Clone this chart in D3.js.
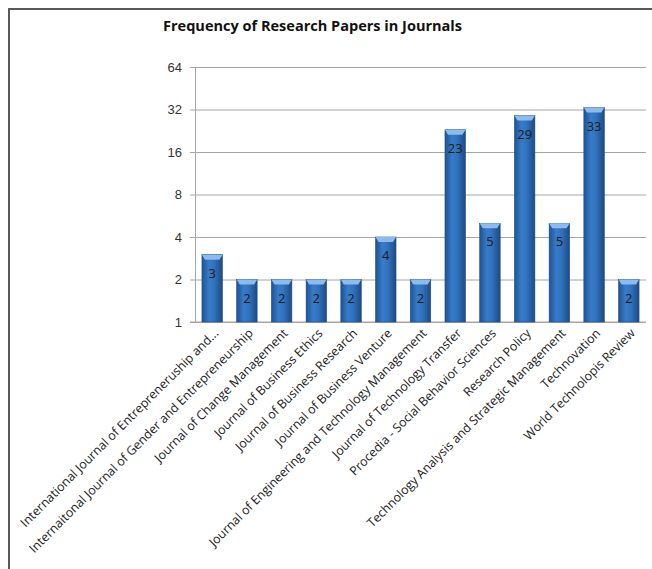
<!DOCTYPE html>
<html>
<head>
<meta charset="utf-8">
<script src="https://cdn.jsdelivr.net/npm/d3@7"></script>
<style>
  body { margin: 0; background: #fff; }
  svg { font-family: "Open Sans", "Liberation Sans", sans-serif; }
</style>
</head>
<body>
<svg></svg>
<script>
const journals = [
  "International Journal of Entrepreneruship and...",
  "Internaitonal Journal of Gender and Entrepreneurship",
  "Journal of Change Management",
  "Journal of Business Ethics",
  "Journal of Business Research",
  "Journal of Business Venture",
  "Journal of Engineering and Technology Management",
  "Journal of Technology Transfer",
  "Procedia - Social Behavior Sciences",
  "Research Policy",
  "Technology Analysis and Strategic Management",
  "Technovation",
  "World Technolopis Review"
]
const papers = [3, 2, 2, 2, 2, 4, 2, 23, 5, 29, 5, 33, 2]
const yTicks = [1, 2, 4, 8, 16, 32, 64]

const width = 652,
      height = 569,
      plotLeft = 195, plotRight = 646,
      plotTop = 67, plotBottom = 322

const svg = d3.select("svg")
  .attr("width", width)
  .attr("height", height)

// frame (top + left only visible)
svg.append("path")
  .attr("d", `M9,${height} V9 H${width}`)
  .attr("fill", "none")
  .attr("stroke", "#5a5a5a")
  .attr("stroke-width", 2)

svg.append("text")
  .attr("x", 163)
  .attr("y", 31)
  .attr("font-size", 14)
  .attr("font-weight", "bold")
  .attr("fill", "#111")
  .attr("textLength", 299)
  .attr("lengthAdjust", "spacingAndGlyphs")
  .text("Frequency of Research Papers in Journals")

const x_scale = d3.scaleBand()
  .domain(journals)
  .range([plotLeft, plotRight])
  .paddingInner(0.41)
  .paddingOuter(0.2)

const y_scale = d3.scaleLog()
  .base(2)
  .domain([1, 64])
  .range([plotBottom, plotTop])

const defs = svg.append("defs")
const grad = defs.append("linearGradient").attr("id", "barGrad")
  .attr("x1", "0%").attr("x2", "100%").attr("y1", "0%").attr("y2", "0%")
grad.append("stop").attr("offset", "0%").attr("stop-color", "#1f5294")
grad.append("stop").attr("offset", "35%").attr("stop-color", "#377cca")
grad.append("stop").attr("offset", "60%").attr("stop-color", "#3172bd")
grad.append("stop").attr("offset", "100%").attr("stop-color", "#1d4a84")

const yAxis = d3.axisLeft(y_scale)
  .tickValues(yTicks)
  .tickFormat(d3.format("d"))
  .tickSize(-(plotRight - plotLeft))
  .tickPadding(13)

svg.append("g")
  .attr("transform", `translate(${plotLeft},0)`)
  .call(yAxis)
  .call(g => g.select(".domain").attr("stroke", "#a6a6a6"))
  .call(g => g.selectAll(".tick line").attr("stroke", "#a6a6a6").attr("x1", -5))
  .call(g => g.selectAll(".tick text").attr("font-size", 13).attr("fill", "#333"))

svg.append("line")
  .attr("x1", plotLeft - 5).attr("x2", plotRight)
  .attr("y1", plotBottom).attr("y2", plotBottom)
  .attr("stroke", "#a6a6a6")

const bars = svg.append("g")
  .selectAll("g")
  .data(journals)
  .join("g")

bars.append("rect")
  .attr("x", d => x_scale(d))
  .attr("y", (d, i) => y_scale(papers[i]))
  .attr("width", x_scale.bandwidth())
  .attr("height", (d, i) => plotBottom - y_scale(papers[i]))
  .attr("fill", "url(#barGrad)")
  .attr("stroke", "#1f4f8c")
  .attr("stroke-width", 0.6)

// light bevel on top of each bar
bars.append("path")
  .attr("d", (d, i) => {
    const x0 = x_scale(d), w = x_scale.bandwidth(), y0 = y_scale(papers[i])
    return `M${x0},${y0} H${x0 + w} L${x0 + w - 3},${y0 + 5} H${x0 + 3} Z`
  })
  .attr("fill", "#8ebbeb")

bars.append("text")
  .attr("x", d => x_scale(d) + x_scale.bandwidth() / 2)
  .attr("y", (d, i) => y_scale(papers[i]) + 23)
  .attr("text-anchor", "middle")
  .attr("font-size", 13)
  .attr("fill", "#1a1a1a")
  .text((d, i) => papers[i])

svg.append("g")
  .selectAll("text")
  .data(journals)
  .join("text")
  .attr("transform", d => `translate(${x_scale(d) + x_scale.bandwidth() / 2 + 7},${plotBottom + 12}) rotate(-45)`)
  .attr("text-anchor", "end")
  .attr("font-size", 12.4)
  .attr("fill", "#1a1a1a")
  .text(d => d)
</script>
</body>
</html>
